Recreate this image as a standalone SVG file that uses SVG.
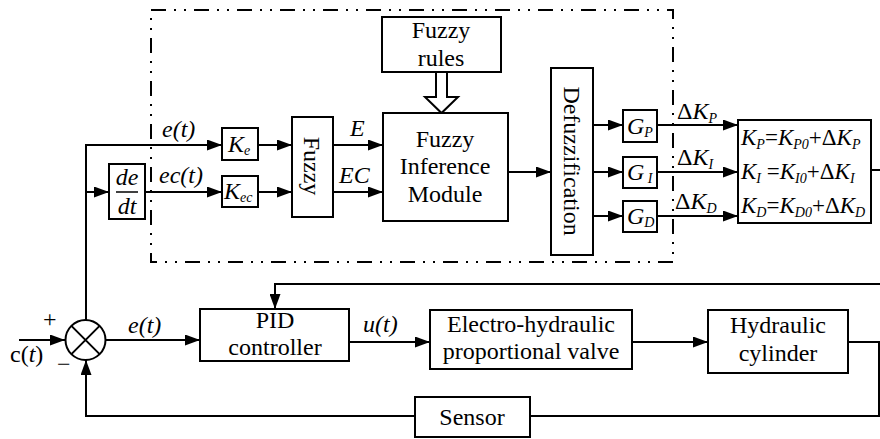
<svg xmlns="http://www.w3.org/2000/svg" width="880" height="439" viewBox="0 0 880 439">
<style>
.b{fill:#fff;stroke:#000;stroke-width:2}
.l{fill:none;stroke:#000;stroke-width:2}
.d{fill:none;stroke:#000;stroke-width:2;stroke-dasharray:15 8 2 8 2 8}
text{font-family:'Liberation Serif','Tinos','Times New Roman','Times','DejaVu Serif','Noto Serif',serif;font-size:24px;fill:#000}
.c{text-anchor:middle}
.i{font-style:italic}
.n{font-style:normal}
.s{font-size:14px}
.f{font-size:23px}
</style>
<defs>
<marker id="a" markerUnits="userSpaceOnUse" markerWidth="15" markerHeight="11" refX="15" refY="5.5" orient="auto">
<path d="M0,0 L15,5.5 L0,11 z" fill="#000"/>
</marker>
</defs>
<rect width="880" height="439" fill="#fff"/>
<path class="d" d="M151,10 H673 V262 H151 Z"/>
<g id="connectors">
<path class="l" d="M86,320 V145 H222" marker-end="url(#a)"/>
<path class="l" d="M86,192 H109" marker-end="url(#a)"/>
<path class="l" d="M145,192 H222" marker-end="url(#a)"/>
<path class="l" d="M258,145 H292" marker-end="url(#a)"/>
<path class="l" d="M258,192 H292" marker-end="url(#a)"/>
<path class="l" d="M333,145 H383" marker-end="url(#a)"/>
<path class="l" d="M333,192 H383" marker-end="url(#a)"/>
<path class="l" d="M508,172 H551" marker-end="url(#a)"/>
<path class="l" d="M593,125 H623" marker-end="url(#a)"/>
<path class="l" d="M593,172 H623" marker-end="url(#a)"/>
<path class="l" d="M593,216 H623" marker-end="url(#a)"/>
<path class="l" d="M657,125 H738" marker-end="url(#a)"/>
<path class="l" d="M657,172 H738" marker-end="url(#a)"/>
<path class="l" d="M657,216 H738" marker-end="url(#a)"/>
<path class="l" d="M871,170 H880"/>
<path class="l" d="M880,284 H275 V309" marker-end="url(#a)"/>
<path class="l" d="M19,340 H65" marker-end="url(#a)"/>
<path class="l" d="M106,340 H200" marker-end="url(#a)"/>
<path class="l" d="M349,342 H430" marker-end="url(#a)"/>
<path class="l" d="M632,342 H708" marker-end="url(#a)"/>
<path class="l" d="M848,342 H879 V416 H530"/>
<path class="l" d="M415,416 H86 V360" marker-end="url(#a)"/>
<polygon class="b" points="436,72 436,97 425,97 441.5,113 458,97 447,97 447,72"/>
</g>
<g id="labels">
<text class="i" x="162" y="137">e(t)</text>
<text class="i" x="159" y="183">ec(t)</text>
<text class="i" x="350" y="136">E</text>
<text class="i" x="339" y="183">EC</text>
<text class="i" x="677" y="119"><tspan class="n">Δ</tspan>K<tspan class="s" dy="4">P</tspan></text>
<text class="i" x="677" y="165"><tspan class="n">Δ</tspan>K<tspan class="s" dy="4">I</tspan></text>
<text class="i" x="675" y="209"><tspan class="n">Δ</tspan>K<tspan class="s" dy="4">D</tspan></text>
<text x="43" y="327">+</text>
<text x="57" y="372">−</text>
<text x="10" y="362">c(<tspan class="i">t</tspan>)</text>
<text class="i" x="128" y="333">e(t)</text>
<text class="i" x="363" y="332">u(t)</text>
</g>
<g id="fuzzy-rules">
<rect class="b" x="382" y="17" width="119" height="55"/>
<text class="c" x="441" y="38">Fuzzy</text>
<text class="c" x="441" y="66">rules</text>
</g>
<g id="fim">
<rect class="b" x="383" y="113" width="125" height="108"/>
<text class="c" x="445" y="147">Fuzzy</text>
<text class="c" x="445" y="174">Inference</text>
<text class="c" x="445" y="202">Module</text>
</g>
<g id="fuzzy">
<rect class="b" x="292" y="117" width="41" height="100"/>
<text class="c" x="312" y="166" dominant-baseline="central" transform="rotate(90 312 166)">Fuzzy</text>
</g>
<g id="defuzz">
<rect class="b" x="551" y="68" width="42" height="187"/>
<text class="c" x="572" y="161" dominant-baseline="central" transform="rotate(90 572 161)">Defuzzification</text>
</g>
<g id="ke">
<rect class="b" x="222" y="128" width="36" height="32"/>
<text class="i" x="228" y="152">K<tspan class="s" dy="3">e</tspan></text>
</g>
<g id="kec">
<rect class="b" x="222" y="176" width="36" height="31"/>
<text class="i" x="224" y="199">K<tspan class="s" dy="3">ec</tspan></text>
</g>
<g id="dedt">
<rect class="b" x="109" y="164" width="36" height="55"/>
<text class="c i" x="127" y="185">de</text>
<line x1="116" y1="192" x2="138" y2="192" stroke="#000" stroke-width="1.5"/>
<text class="c i" x="127" y="214">dt</text>
</g>
<g id="gp">
<rect class="b" x="623" y="110" width="34" height="32"/>
<text class="i" x="627" y="134">G<tspan class="s" dy="3">P</tspan></text>
</g>
<g id="gi">
<rect class="b" x="623" y="157" width="34" height="31"/>
<text class="i" x="627" y="180">G<tspan class="s" dy="3"> I</tspan></text>
</g>
<g id="gd">
<rect class="b" x="623" y="201" width="34" height="31"/>
<text class="i" x="627" y="224">G<tspan class="s" dy="3">D</tspan></text>
</g>
<g id="formula">
<rect class="b" x="738" y="120" width="133" height="103"/>
<text class="i f" x="741" y="145">K<tspan class="s" dy="4">P</tspan><tspan class="n" dy="-4">=</tspan>K<tspan class="s" dy="4">P0</tspan><tspan class="n" dy="-4">+Δ</tspan>K<tspan class="s" dy="4">P</tspan></text>
<text class="i f" x="741" y="179">K<tspan class="s" dy="4">I</tspan><tspan class="n" dy="-4"> =</tspan>K<tspan class="s" dy="4">I0</tspan><tspan class="n" dy="-4">+Δ</tspan>K<tspan class="s" dy="4">I</tspan></text>
<text class="i f" x="741" y="213">K<tspan class="s" dy="4">D</tspan><tspan class="n" dy="-4">=</tspan>K<tspan class="s" dy="4">D0</tspan><tspan class="n" dy="-4">+Δ</tspan>K<tspan class="s" dy="4">D</tspan></text>
</g>
<g id="sum">
<circle cx="85.5" cy="340" r="20" fill="#fff" stroke="#000" stroke-width="2"/>
<path class="l" d="M71.4,325.9 L99.6,354.1 M99.6,325.9 L71.4,354.1"/>
</g>
<g id="pid">
<rect class="b" x="200" y="309" width="149" height="52"/>
<text class="c" x="275" y="328">PID</text>
<text class="c" x="275" y="355">controller</text>
</g>
<g id="valve">
<rect class="b" x="430" y="310" width="202" height="59"/>
<text class="c" x="531" y="332">Electro-hydraulic</text>
<text class="c" x="531" y="359">proportional valve</text>
</g>
<g id="cylinder">
<rect class="b" x="708" y="310" width="140" height="63"/>
<text class="c" x="778" y="333">Hydraulic</text>
<text class="c" x="778" y="361">cylinder</text>
</g>
<g id="sensor">
<rect class="b" x="415" y="397" width="115" height="40"/>
<text class="c" x="472" y="425">Sensor</text>
</g>
</svg>
